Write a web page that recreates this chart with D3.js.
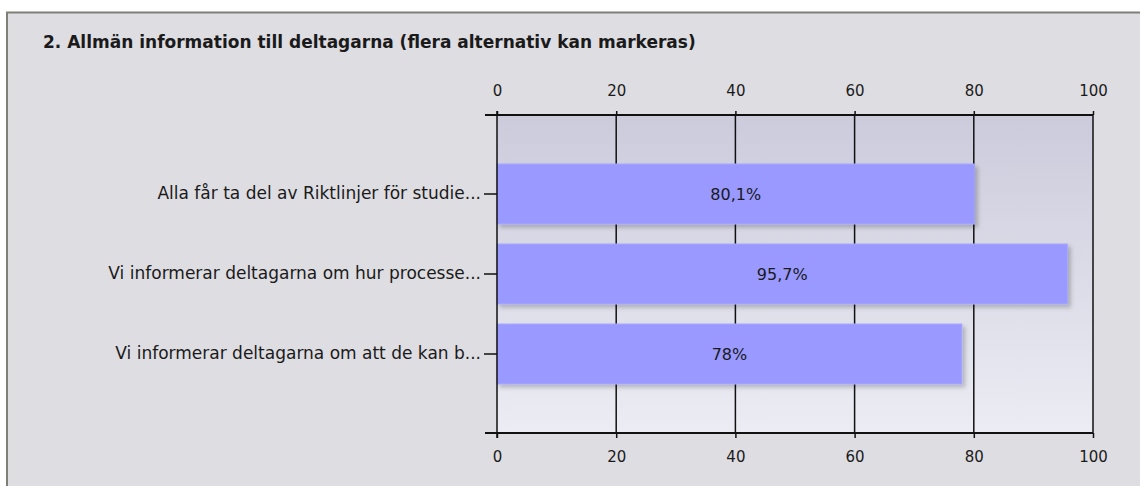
<!DOCTYPE html>
<html>
<head>
<meta charset="utf-8">
<script src="https://cdn.jsdelivr.net/npm/d3@7"></script>
<style>
  body { margin: 0; background: #fff; }
  text { font-family: "DejaVu Sans", Verdana, sans-serif; fill: #1a1a1a; }
</style>
</head>
<body>
<div id="chart-area"></div>
<script>

// Data
let titleText = "2. Allmän information till deltagarna (flera alternativ kan markeras)";
let categories = [
  "Alla får ta del av Riktlinjer för studie...",
  "Vi informerar deltagarna om hur processe...",
  "Vi informerar deltagarna om att de kan b..."
];
let values = [80.1, 95.7, 78];
let valueLabels = ["80,1%", "95,7%", "78%"];
let tickValues = [0, 20, 40, 60, 80, 100];

let W = 1140, H = 486;

let svg = d3.select("#chart-area").append("svg")
    .attr("width", W)
    .attr("height", H);

let defs = svg.append("defs");

let grad = defs.append("linearGradient")
    .attr("id", "plotbg")
    .attr("x1", 0).attr("y1", 0).attr("x2", 0).attr("y2", 1);
grad.append("stop").attr("offset", "0%").attr("stop-color", "#cbcbdc");
grad.append("stop").attr("offset", "100%").attr("stop-color", "#ececf4");

let shadow = defs.append("filter")
    .attr("id", "shadow")
    .attr("x", "-5%").attr("y", "-20%")
    .attr("width", "115%").attr("height", "150%");
shadow.append("feDropShadow")
    .attr("dx", 3).attr("dy", 3)
    .attr("stdDeviation", 2)
    .attr("flood-color", "#000")
    .attr("flood-opacity", 0.22);

// panel background + border
svg.append("rect")
    .attr("x", 6).attr("y", 12)
    .attr("width", W).attr("height", H)
    .attr("fill", "#dedde2");
svg.append("line")
    .attr("x1", 6).attr("x2", W).attr("y1", 12.5).attr("y2", 12.5)
    .attr("stroke", "#7e8078").attr("stroke-width", 2);
svg.append("line")
    .attr("x1", 7).attr("x2", 7).attr("y1", 12).attr("y2", H)
    .attr("stroke", "#7e8078").attr("stroke-width", 2);

svg.append("text")
    .attr("x", 43)
    .attr("y", 48)
    .style("font-weight", "bold")
    .style("font-size", "17px")
    .text(titleText);

// Scales
let margin = {top: 115, bottom: 433, left: 497, right: 1093};

let x = d3.scaleLinear()
    .domain([0, 100])
    .range([margin.left, margin.right]);

let y = d3.scaleBand()
    .domain(categories)
    .range([margin.top, margin.bottom])
    .paddingInner(0.25)
    .paddingOuter(0.6125);

// plot background
svg.append("rect")
    .attr("x", x(0)).attr("y", margin.top)
    .attr("width", x(100) - x(0))
    .attr("height", margin.bottom - margin.top)
    .attr("fill", "url(#plotbg)");

// gridlines
svg.append("g")
  .selectAll("line")
  .data(tickValues.slice(1))
  .join("line")
    .attr("x1", d => x(d)).attr("x2", d => x(d))
    .attr("y1", margin.top).attr("y2", margin.bottom)
    .attr("stroke", "#111")
    .attr("stroke-width", 1.5);

// bars
svg.append("g")
  .selectAll("rect")
  .data(values)
  .join("rect")
    .attr("x", x(0))
    .attr("y", (d, i) => y(categories[i]))
    .attr("width", d => x(d) - x(0))
    .attr("height", y.bandwidth())
    .attr("fill", "#9999ff")
    .attr("stroke", "#a8a8ff")
    .attr("stroke-width", 1)
    .attr("filter", "url(#shadow)");

svg.append("g")
  .selectAll("text")
  .data(values)
  .join("text")
    .attr("x", d => (x(0) + x(d)) / 2)
    .attr("y", (d, i) => y(categories[i]) + y.bandwidth() / 2)
    .attr("dy", "0.35em")
    .attr("text-anchor", "middle")
    .style("font-size", "16px")
    .text((d, i) => valueLabels[i]);

// Axes
let xAxisTop = d3.axisTop(x)
    .tickValues(tickValues)
    .tickSize(4)
    .tickPadding(15)
    .tickFormat(d3.format("d"));

let xAxisBottom = d3.axisBottom(x)
    .tickValues(tickValues)
    .tickSize(5)
    .tickPadding(13)
    .tickFormat(d3.format("d"));

let yAxis = d3.axisLeft(y)
    .tickSize(13)
    .tickPadding(3);

function styleAxis(g, size) {
  g.select(".domain").remove();
  g.selectAll(".tick line").attr("stroke", "#111").attr("stroke-width", 1.5);
  g.selectAll(".tick text")
    .style("font-family", '"DejaVu Sans", Verdana, sans-serif')
    .style("font-size", size)
    .attr("fill", "#1a1a1a");
}

svg.append("g")
    .attr("transform", "translate(0," + margin.top + ")")
    .call(xAxisTop)
    .call(styleAxis, "15px");

svg.append("g")
    .attr("transform", "translate(0," + margin.bottom + ")")
    .call(xAxisBottom)
    .call(styleAxis, "15px");

svg.append("g")
    .attr("transform", "translate(" + margin.left + ",0)")
    .call(yAxis)
    .call(styleAxis, "17px");

// axis lines (extend left past the y axis like the original)
svg.append("line")
    .attr("x1", 485).attr("x2", x(100))
    .attr("y1", margin.top).attr("y2", margin.top)
    .attr("stroke", "#111").attr("stroke-width", 2);
svg.append("line")
    .attr("x1", 485).attr("x2", x(100))
    .attr("y1", margin.bottom).attr("y2", margin.bottom)
    .attr("stroke", "#111").attr("stroke-width", 2);
svg.append("line")
    .attr("x1", x(0)).attr("x2", x(0))
    .attr("y1", margin.top - 4).attr("y2", margin.bottom + 5)
    .attr("stroke", "#111").attr("stroke-width", 1.5);

</script>
</body>
</html>
